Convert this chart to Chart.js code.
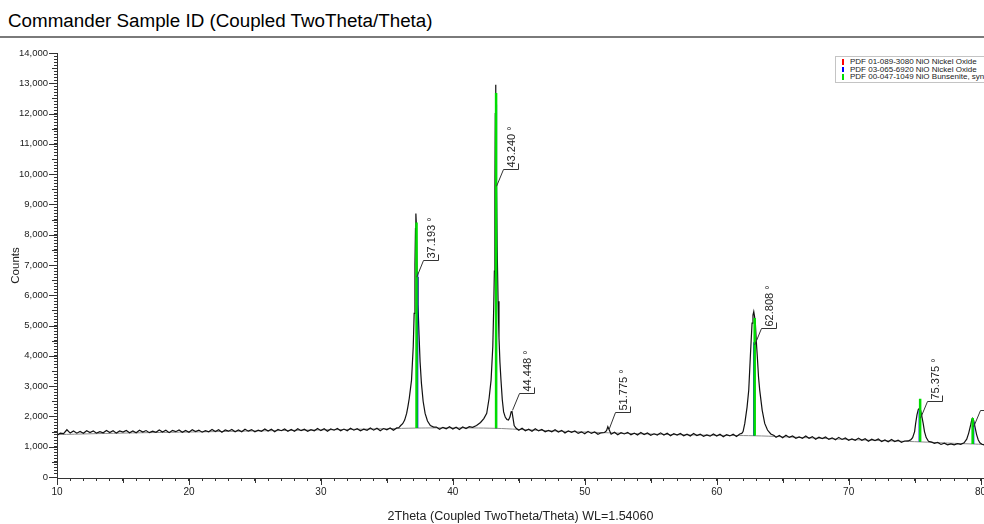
<!DOCTYPE html>
<html>
<head>
<meta charset="utf-8">
<script src="https://cdn.jsdelivr.net/npm/chart.js@4.4.0/dist/chart.umd.min.js"></script>
<style>
  html, body { margin: 0; padding: 0; background: #fff; overflow: hidden; }
  body { width: 984px; height: 524px; position: relative; font-family: 'Liberation Sans', Arial, sans-serif; }
  #title { position: absolute; left: 8px; top: 11px; font-size: 18.8px; line-height: 19px; color: #000; white-space: nowrap; }
  #rule { position: absolute; left: 0; top: 36px; width: 984px; height: 2px; background: #7a7a7a; }
  #wrap { position: absolute; left: 0; top: 40px; width: 984px; height: 484px; }
  #legend { position: absolute; left: 835px; top: 56px; width: 170px; border: 1px solid #c4c4c4; background: #fff; font-size: 8px; color: #222; padding: 1px 0; z-index: 2; }
  .row { height: 7.5px; line-height: 7.5px; position: relative; padding-left: 14px; white-space: nowrap; }
  .mk { position: absolute; left: 6px; top: 1px; width: 2px; height: 5.5px; }
</style>
</head>
<body>
<div id="title">Commander Sample ID (Coupled TwoTheta/Theta)</div>
<div id="rule"></div>
<div id="wrap"><canvas id="xrd" width="984" height="484"></canvas></div>
<div id="legend">
  <div class="row"><span class="mk" style="background:#ff0000"></span>PDF 01-089-3080 NiO Nickel Oxide</div>
  <div class="row"><span class="mk" style="background:#0000ff"></span>PDF 03-065-6920 NiO Nickel Oxide</div>
  <div class="row"><span class="mk" style="background:#00dd00"></span>PDF 00-047-1049 NiO Bunsenite, syn</div>
</div>
<script>
Chart.defaults.font.family = "'Liberation Sans', Arial, sans-serif";
Chart.defaults.color = '#222';

const twoTheta = [
  10.00,10.25,10.50,10.75,11.00,11.25,11.50,11.75,12.00,12.25,12.50,12.75,13.00,13.25,13.50,13.75,
  14.00,14.25,14.50,14.75,15.00,15.25,15.50,15.75,16.00,16.25,16.50,16.75,17.00,17.25,17.50,17.75,
  18.00,18.25,18.50,18.75,19.00,19.25,19.50,19.75,20.00,20.25,20.50,20.75,21.00,21.25,21.50,21.75,
  22.00,22.25,22.50,22.75,23.00,23.25,23.50,23.75,24.00,24.25,24.50,24.75,25.00,25.25,25.50,25.75,
  26.00,26.25,26.50,26.75,27.00,27.25,27.50,27.75,28.00,28.25,28.50,28.75,29.00,29.25,29.50,29.75,
  30.00,30.25,30.50,30.75,31.00,31.25,31.50,31.75,32.00,32.25,32.50,32.75,33.00,33.25,33.50,33.75,
  34.00,34.25,34.50,34.75,35.00,35.25,35.50,35.75,
  35.90,36.05,36.20,36.35,36.50,36.60,36.70,36.87,37.00,37.07,37.13,37.17,37.20,37.24,37.29,37.36,
  37.44,37.52,37.62,37.75,37.90,38.08,38.30,38.55,
  38.75,39.00,39.25,39.50,39.75,40.00,40.25,40.50,40.75,41.00,41.25,
  41.50,41.80,42.10,42.35,42.57,42.75,42.90,43.03,43.10,43.15,43.19,43.22,43.24,43.27,43.31,43.36,
  43.43,43.50,43.57,43.65,43.75,43.85,43.98,44.10,44.22,44.33,44.42,44.48,44.56,44.65,44.80,
  45.00,45.25,45.50,45.75,46.00,46.25,46.50,46.75,47.00,47.25,47.50,47.75,48.00,48.25,48.50,48.75,
  49.00,49.25,49.50,49.75,50.00,50.25,50.50,50.75,51.00,51.25,51.50,51.65,51.75,51.85,52.00,
  52.25,52.50,52.75,53.00,53.25,53.50,53.75,54.00,54.25,54.50,54.75,55.00,55.25,55.50,55.75,
  56.00,56.25,56.50,56.75,57.00,57.25,57.50,57.75,58.00,58.25,58.50,58.75,59.00,59.25,59.50,59.75,
  60.00,60.25,60.50,60.75,61.00,61.25,61.50,61.75,
  61.90,62.00,62.13,62.30,62.43,62.55,62.68,62.75,62.81,62.87,62.93,63.00,63.08,63.17,63.26,63.45,
  63.64,63.85,64.10,64.35,
  64.50,64.75,65.00,65.25,65.50,65.75,66.00,66.25,66.50,66.75,67.00,67.25,67.50,67.75,68.00,68.25,
  68.50,68.75,69.00,69.25,69.50,69.75,70.00,70.25,70.50,70.75,71.00,71.25,71.50,71.75,72.00,72.25,
  72.50,72.75,73.00,73.25,73.50,73.75,74.00,74.25,
  74.50,74.70,74.85,75.00,75.08,75.18,75.28,75.37,75.46,75.55,75.65,75.75,75.88,76.05,76.30,
  76.50,76.75,77.00,77.25,77.50,77.75,78.00,78.25,78.50,78.75,
  78.95,79.10,79.25,79.33,79.40,79.48,79.58,79.70,79.82,79.95,80.10,80.30
];
const counts = [
  1380,1450,1430,1560,1450,1521,1447,1503,1444,1530,1466,1517,1448,1499,1460,1536,
  1467,1528,1449,1520,1481,1537,1463,1519,1460,1546,1482,1533,1464,1515,1476,1552,
  1483,1544,1465,1536,1497,1553,1479,1535,1476,1562,1498,1549,1480,1531,1492,1568,
  1499,1560,1481,1552,1513,1569,1495,1551,1492,1578,1514,1565,1496,1547,1508,1584,
  1515,1576,1497,1568,1529,1585,1511,1567,1508,1594,1530,1581,1512,1563,1524,1600,
  1531,1592,1513,1584,1545,1601,1527,1583,1524,1610,1546,1597,1528,1579,1540,1616,
  1547,1608,1529,1600,1561,1617,1545,1620,
  1625,1700,1760,1880,2100,2330,2600,3200,4300,5400,7000,8200,8700,8300,6600,5700,
  4700,3800,3100,2500,2100,1850,1700,1650,
  1650,1575,1640,1590,1660,1585,1645,1570,1650,1600,1662,
  1640,1700,1800,1930,2100,2600,3200,4300,5600,6800,9500,12000,12950,12000,9600,7600,
  5800,4600,3800,3200,2550,2150,1970,1900,1880,1980,2150,2180,1950,1700,1610,
  1545,1610,1529,1579,1513,1593,1522,1567,1491,1536,1490,1560,1484,1539,1453,1518,
  1472,1522,1441,1491,1425,1507,1439,1486,1413,1460,1468,1530,1660,1560,1415,
  1478,1396,1464,1421,1474,1397,1450,1388,1470,1403,1451,1379,1427,1384,1457,
  1385,1443,1361,1428,1386,1439,1362,1415,1352,1435,1368,1416,1344,1391,1349,1422,
  1350,1409,1328,1397,1356,1410,1340,1420,
  1440,1500,1770,2300,2870,3970,5080,5350,5460,5300,5080,4500,3970,3300,2870,2200,
  1770,1550,1420,1370,
  1310,1371,1297,1377,1308,1354,1280,1325,1281,1352,1278,1333,1249,1315,1271,1321,
  1242,1293,1229,1309,1240,1286,1212,1257,1213,1284,1210,1265,1181,1247,1203,1253,
  1174,1225,1161,1241,1172,1218,1144,1189,
  1190,1225,1300,1500,1770,2050,2230,2270,2200,2000,1770,1500,1300,1180,1150,
  1110,1140,1075,1115,1060,1095,1060,1100,1080,1130,
  1250,1450,1720,1880,1940,1870,1650,1400,1230,1130,1080,1060
];

// fitted background
const bgTheta  = [10, 15, 20, 25, 30, 35, 37.2, 40, 43.2, 45, 48, 51.8, 55, 58, 60, 62.8, 65, 68, 70, 72.5, 75.4, 77.5, 79.4, 80.3];
const bgCounts = [1400, 1450, 1485, 1520, 1555, 1595, 1615, 1622, 1608, 1572, 1515, 1460, 1418, 1390, 1376, 1362, 1330, 1275, 1240, 1200, 1160, 1120, 1090, 1075];

// reference patterns (stick positions and heights)
const redPos    = [37.30, 43.28, 62.85, 75.39, 79.44];
const redTop    = [6600, 12100, 4300, 2150, 1780];
const bluePos   = [37.31, 43.28, 62.84, 75.38, 79.45];
const blueTop   = [6750, 12300, 4450, 2210, 1820];
const greenPos  = [37.25, 43.28, 62.88, 75.42, 79.40];
const greenTop  = [8400, 12680, 5250, 2580, 1950];
const stickBase = [1615, 1608, 1362, 1160, 1090];

// peak labels
const peakAngles = [37.193, 43.240, 44.448, 51.775, 62.808, 75.375, 79.404];
const leaderFrom = [6600, 9600, 2200, 1580, 4360, 1940, 1660];
const peakLabels = peakAngles.map(a => a.toFixed(3) + ' °');

const toXY = (xs, ys) => xs.map((x, i) => ({ x: x, y: ys[i] }));
const sticks = (pos, top) => pos.flatMap((x, i) => [{ x: x, y: stickBase[i] }, { x: x, y: top[i] }, { x: x, y: null }]);

const longTicks = {
  id: 'longTicks',
  afterDraw(chart) {
    const { ctx, scales: { x, y } } = chart;
    ctx.save();
    ctx.strokeStyle = '#333';
    ctx.lineWidth = 1;
    ctx.beginPath();
    for (let v = 10; v <= 80; v += 5) {
      const px = Math.round(x.getPixelForValue(v)) + 0.5;
      ctx.moveTo(px, x.top);
      ctx.lineTo(px, x.top + (v % 10 === 0 ? 7 : 5));
    }
    for (let v = 0; v <= 14000; v += 500) {
      const py = Math.round(y.getPixelForValue(v)) + 0.5;
      ctx.moveTo(y.right, py);
      ctx.lineTo(y.right - (v % 1000 === 0 ? 8 : 5), py);
    }
    ctx.stroke();
    ctx.restore();
  }
};

const peakMarks = {
  id: 'peakMarks',
  afterDatasetsDraw(chart) {
    const { ctx, scales: { x, y } } = chart;
    ctx.save();
    ctx.strokeStyle = '#333';
    ctx.fillStyle = '#222';
    ctx.lineWidth = 1;
    ctx.font = "11px 'Liberation Sans', Arial, sans-serif";
    peakAngles.forEach((a, i) => {
      const x0 = x.getPixelForValue(a) + 1, y0 = y.getPixelForValue(leaderFrom[i]);
      const x1 = Math.round(x0 + 6) + 0.5, y1 = Math.round(y0 - 17) + 0.5;
      ctx.beginPath();
      ctx.moveTo(x0, y0);
      ctx.lineTo(x1, y1);
      ctx.lineTo(x1 + 15, y1);
      ctx.lineTo(x1 + 15, y1 - 6);
      ctx.stroke();
      ctx.save();
      ctx.translate(x1 + 8, y1 - 2);
      ctx.rotate(-Math.PI / 2);
      ctx.textAlign = 'left';
      ctx.textBaseline = 'middle';
      ctx.fillText(peakLabels[i], 0, 0);
      ctx.restore();
    });
    ctx.restore();
  }
};

new Chart(document.getElementById('xrd'), {
  type: 'line',
  data: {
    datasets: [
      { label: 'PDF 00-047-1049', data: sticks(greenPos, greenTop), borderColor: '#00dd00', borderWidth: 2.5, pointRadius: 0, spanGaps: false },
      { label: 'PDF 03-065-6920', data: sticks(bluePos, blueTop), borderColor: '#0000ff', borderWidth: 2, pointRadius: 0, spanGaps: false },
      { label: 'PDF 01-089-3080', data: sticks(redPos, redTop), borderColor: '#ff0000', borderWidth: 1.5, pointRadius: 0, spanGaps: false },
      { label: 'Scan', data: toXY(twoTheta, counts), borderColor: '#111', borderWidth: 1.2, pointRadius: 0, tension: 0 },
      { label: 'Background', data: toXY(bgTheta, bgCounts), borderColor: '#8a8a8a', borderWidth: 1, pointRadius: 0, tension: 0.4 }
    ]
  },
  options: {
    responsive: false,
    devicePixelRatio: 1,
    animation: false,
    layout: { padding: { top: 13, right: 0, left: 0, bottom: 0 } },
    plugins: { legend: { display: false }, tooltip: { enabled: false } },
    scales: {
      x: {
        type: 'linear', min: 10, max: 80.26,
        ticks: {
          stepSize: 1, autoSkip: false, maxRotation: 0, includeBounds: false, padding: 5,
          font: { size: 10 }, color: '#222',
          callback: v => (Math.abs(v % 10) < 1e-6 ? String(v) : '')
        },
        grid: { drawOnChartArea: false, tickLength: 3, tickColor: '#333' },
        border: { color: '#333', width: 1 },
        title: { display: true, text: '2Theta (Coupled TwoTheta/Theta) WL=1.54060', font: { size: 12.5 }, color: '#222', padding: 0 },
        afterFit: s => { s.height = 46; s.paddingRight = 0; s.paddingLeft = 0; }
      },
      y: {
        type: 'linear', min: -33, max: 14000,
        ticks: {
          stepSize: 100, autoSkip: false, includeBounds: false, padding: 6,
          font: { size: 9.5 }, color: '#222',
          callback: v => (v % 1000 === 0 ? v.toLocaleString('en-US') : '')
        },
        grid: { drawOnChartArea: false, tickLength: 3, tickColor: '#333' },
        border: { color: '#333', width: 1 },
        title: { display: true, text: 'Counts', font: { size: 11.5 }, color: '#222', padding: { top: 9, bottom: 0 } },
        afterFit: s => { s.width = 57; }
      }
    }
  },
  plugins: [longTicks, peakMarks]
});
</script>
</body>
</html>
